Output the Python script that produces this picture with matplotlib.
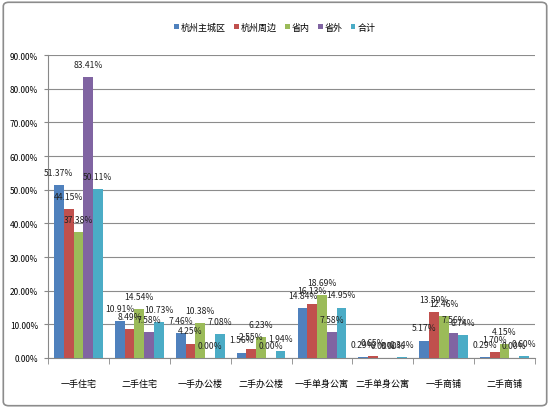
import numpy as np
import matplotlib
matplotlib.use("Agg")
import matplotlib.pyplot as plt
from matplotlib.patches import FancyBboxPatch

plt.rcParams['font.family'] = ['Noto Sans CJK SC', 'DejaVu Sans']

# -----------------------------
# DATA
# -----------------------------
categories = ["一手住宅", "二手住宅", "一手办公楼", "二手办公楼",
              "一手单身公寓", "二手单身公寓", "一手商铺", "二手商铺"]
series_names = ["杭州主城区", "杭州周边", "省内", "省外", "合计"]

hz_main = [51.37, 10.91, 7.46, 1.56, 14.84, 0.29, 5.17, 0.29]
hz_near = [44.15, 8.49, 4.25, 2.55, 16.13, 0.65, 13.59, 1.70]
in_prov = [37.38, 14.54, 10.38, 6.23, 18.69, 0.00, 12.46, 4.15]
out_prov = [83.41, 7.58, 0.00, 0.00, 7.58, 0.00, 7.56, 0.00]
total = [50.11, 10.73, 7.08, 1.94, 14.95, 0.34, 6.74, 0.60]

series = [hz_main, hz_near, in_prov, out_prov, total]
colors = ["#4F81BD", "#C0504D", "#9BBB59", "#8064A2", "#4BACC6"]

# -----------------------------
# PLOT
# -----------------------------
fig = plt.figure(figsize=(5.5, 4.1), dpi=100)
ax = fig.add_axes([0.0873, 0.1244, 0.8855, 0.7386])

x = np.arange(len(categories))
w = 0.16
for i, (vals, c, name) in enumerate(zip(series, colors, series_names)):
    pos = x + (i - 2) * w
    ax.bar(pos, vals, width=w, color=c, label=name, zorder=3)
    for px, v in zip(pos, vals):
        ax.annotate(f"{v:.2f}%", (px, v), xytext=(0, 6), textcoords="offset points",
                    ha="center", va="bottom", fontsize=6.2, color="#222222", zorder=4)

ax.set_xlim(-0.5, len(categories) - 0.5)
ax.set_ylim(0, 90)
ax.set_yticks(np.arange(0, 91, 10))
ax.set_yticklabels([f"{t:.2f}%" for t in np.arange(0, 91, 10)], fontsize=6)
ax.set_xticks(x)
ax.set_xticklabels(categories, fontsize=6.5)
ax.set_xticks(np.arange(-0.5, len(categories)), minor=True)
ax.tick_params(axis="x", which="major", length=0, pad=15)
ax.tick_params(axis="x", which="minor", length=4, color="#888888")
ax.tick_params(axis="y", length=3, color="#888888", pad=4)

ax.grid(axis="y", color="#8c8c8c", linewidth=0.8, zorder=0)
for s in ["top", "right"]:
    ax.spines[s].set_visible(False)
ax.spines["left"].set_color("#888888")
ax.spines["bottom"].set_color("#888888")

fig.legend(loc="upper center", bbox_to_anchor=(0.5, 0.962), ncol=5, frameon=False,
           fontsize=6.5, handlelength=0.5, handleheight=0.5, handletextpad=0.25,
           columnspacing=0.9)

border = FancyBboxPatch((0.006, 0.008), 0.988, 0.984, boxstyle="round,pad=0,rounding_size=0.01",
                        transform=fig.transFigure, facecolor="none", edgecolor="#8c8c8c",
                        linewidth=1.2)
fig.patches.append(border)

fig.savefig("out.png", dpi=100)
